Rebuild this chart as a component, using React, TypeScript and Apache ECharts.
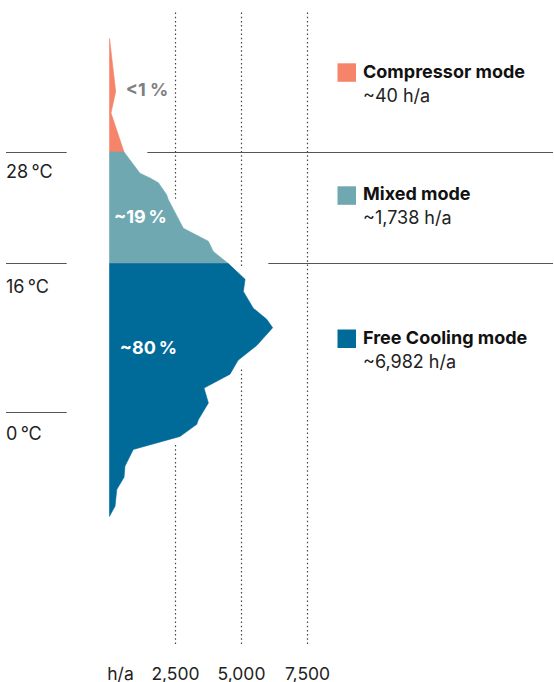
import React, { useEffect, useRef } from 'react';
import * as echarts from 'echarts';

// ---- data ----
const modeNames = ['Compressor mode', 'Mixed mode', 'Free Cooling mode'];
const modeHours = ['~40 h/a', '~1,738 h/a', '~6,982 h/a'];
const modeShares = ['<1 %', '~19\u2009%', '~80\u2009%'];
const modeColors = ['#F5846A', '#6FA8B1', '#006A99'];

// right-hand edge of the distribution (temperature °C, hours per year)
const compressorTemps = [40.2, 34.5, 32.2, 28];
const compressorHours = [0, 235, 57, 550];
const mixedTemps = [28, 25.7, 25.2, 24.7, 23.4, 22.9, 19.8, 18.4, 17.3, 16];
const mixedHours = [550, 1155, 1535, 1850, 2165, 2225, 2795, 3745, 3930, 4500];
const freeTemps = [16, 14.3, 13.0, 11.2, 10.0, 9.1, 7.2, 5.6, 4.1, 2.6, 1.0, -0.8, -1.3, -2.6, -4.0, -5.8, -7.0, -8.3, -10.1, -11.2];
const freeHours = [4500, 5135, 5070, 5445, 5955, 6180, 5585, 4870, 4565, 3580, 3745, 3365, 3305, 2670, 900, 585, 550, 275, 210, 0];

const tempMarks = [28, 16, 0];
const tempLabels = ['28\u2009°C', '16\u2009°C', '0\u2009°C'];
const hourTicks = [0, 2500, 5000, 7500];
const hourTickLabels = ['h/a', '2,500', '5,000', '7,500'];

const FONT = 'Inter, "Liberation Sans", Arial, sans-serif';

function edge(temps: number[], hours: number[]) {
  return temps.map((t, i) => [hours[i], t]);
}
function poly(temps: number[], hours: number[]) {
  return [[0, temps[0]], ...edge(temps, hours), [0, temps[temps.length - 1]]];
}

export default function App() {
  const ref = useRef<HTMLDivElement>(null);
  useEffect(() => {
    if (!ref.current) return;
    const chart = echarts.init(ref.current, undefined, { renderer: 'svg' });

    const polys = [
      poly(compressorTemps, compressorHours),
      poly(mixedTemps, mixedHours),
      poly(freeTemps, freeHours),
    ];
    const outline = [
      [0, compressorTemps[0]],
      ...edge(compressorTemps, compressorHours),
      ...edge(mixedTemps, mixedHours),
      ...edge(freeTemps, freeHours),
      [0, freeTemps[freeTemps.length - 1]],
    ];

    const xMin = -4148;
    const xMax = 16838;
    const leftStart = -3921;
    const leftEnd = -1621;
    const rightStarts: Record<number, number> = { 28: 1432, 16: 6015 };

    const hLines: any[] = [];
    tempMarks.forEach((t) => {
      hLines.push([{ coord: [leftStart, t] }, { coord: [leftEnd, t] }]);
      if (rightStarts[t] !== undefined) {
        hLines.push([{ coord: [rightStarts[t], t] }, { coord: [16800, t] }]);
      }
    });

    const graphics: any[] = [];
    // temperature labels
    const tempLabelY = [171.5, 286.5, 433];
    tempLabels.forEach((s, i) => {
      graphics.push({
        type: 'text', left: 6, top: tempLabelY[i] - 9.5, z: 10,
        style: { text: s, fontSize: 18, fontFamily: FONT, fill: '#222', lineHeight: 19 },
      });
    });
    // share labels
    const sharePos = [[147, 89], [140.5, 216.7], [148.4, 347.5]];
    const shareColors = ['#7f7f7f', '#ffffff', '#ffffff'];
    modeShares.forEach((s, i) => {
      graphics.push({
        type: 'text', x: sharePos[i][0], y: sharePos[i][1], z: 10,
        style: {
          text: s, fontSize: 18, fontWeight: 'bold', fontFamily: FONT, fill: shareColors[i],
          align: 'center', verticalAlign: 'middle',
        },
      });
    });
    // legend
    const legendSquareY = [63.3, 186.3, 329.5];
    const legendTitleY = [71, 193, 337];
    const legendSubY = [95, 217, 361];
    modeNames.forEach((n, i) => {
      graphics.push({
        type: 'rect', shape: { x: 337.5, y: legendSquareY[i], width: 18.5, height: 18.5 }, z: 10,
        style: { fill: modeColors[i] },
      });
      graphics.push({
        type: 'text', x: 363, y: legendTitleY[i], z: 10,
        style: { text: n, fontSize: 18, fontWeight: 'bold', fontFamily: FONT, fill: '#111', verticalAlign: 'middle' },
      });
      graphics.push({
        type: 'text', x: 363, y: legendSubY[i], z: 10,
        style: { text: modeHours[i], fontSize: 18, fontFamily: FONT, fill: '#222', verticalAlign: 'middle' },
      });
    });

    chart.setOption({
      animation: false,
      grid: { left: 0, right: 0, top: 12, bottom: 37 },
      xAxis: {
        type: 'value', min: xMin, max: xMax,
        axisLine: { show: false, onZero: false },
        axisTick: { show: false },
        splitLine: { show: false },
        axisLabel: {
          customValues: hourTicks,
          margin: 20,
          fontSize: 17.5, fontFamily: FONT, color: '#222', lineHeight: 18,
          formatter: (v: number) => {
            const i = hourTicks.indexOf(v);
            if (i === 0) return '{u|' + hourTickLabels[0] + '}';
            return i >= 0 ? hourTickLabels[i] : '';
          },
          rich: { u: { fontSize: 17.5, fontFamily: FONT, color: '#222', padding: [0, 0, 0, 22] } },
        },
      },
      yAxis: {
        type: 'value', min: -24.93, max: 43.06, show: false,
        axisLine: { onZero: false },
        splitLine: { show: false },
      },
      series: [
        {
          type: 'line', data: [], silent: true,
          markLine: {
            z: 1, silent: true, symbol: ['none', 'none'], label: { show: false },
            lineStyle: { type: [1.5, 2.7], color: '#444', width: 1.2 },
            data: hourTicks.slice(1).map((v) => ({ xAxis: v })),
          },
        },
        {
          type: 'line', data: [], silent: true,
          markLine: {
            z: 1, silent: true, symbol: ['none', 'none'], label: { show: false },
            lineStyle: { type: 'solid', color: '#555', width: 1 },
            data: hLines,
          },
        },
        {
          type: 'custom', z: 3, silent: true,
          data: [[0, 0]],
          renderItem: (_p: any, api: any) => ({
            type: 'group',
            children: [
              {
                type: 'polygon',
                shape: { points: outline.map((p) => api.coord(p)) },
                style: { fill: '#fff', stroke: '#fff', lineWidth: 13, lineJoin: 'round' },
              },
              ...polys.map((pl, i) => ({
                type: 'polygon',
                shape: { points: pl.map((p) => api.coord(p)) },
                style: { fill: modeColors[i], stroke: modeColors[i], lineWidth: 0.6 },
              })),
            ],
          }),
        },
      ],
      graphic: graphics,
    });
    return () => chart.dispose();
  }, []);
  return <div ref={ref} style={{ position: 'fixed', left: 0, top: 0, width: 554, height: 682, background: '#fff' }} />;
}
